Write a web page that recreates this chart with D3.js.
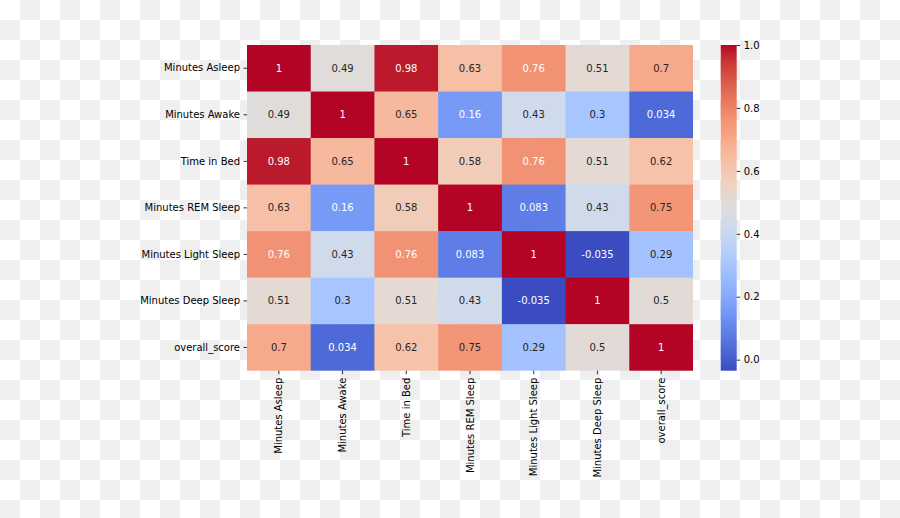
<!DOCTYPE html>
<html>
<head>
<meta charset="utf-8">
<script src="https://cdn.jsdelivr.net/npm/d3@7"></script>
<style>
  html, body { margin: 0; padding: 0; background: #fff; }
  svg { display: block; }
  text { font-family: "DejaVu Sans", sans-serif; }
</style>
</head>
<body>
<svg id="chart" width="900" height="518"></svg>
<script>
// ---- data ----
const labels = ["Minutes Asleep", "Minutes Awake", "Time in Bed", "Minutes REM Sleep",
                "Minutes Light Sleep", "Minutes Deep Sleep", "overall_score"];
const rowAsleep = [1, 0.49, 0.98, 0.63, 0.76, 0.51, 0.7];
const rowAwake  = [0.49, 1, 0.65, 0.16, 0.43, 0.3, 0.034];
const rowBed    = [0.98, 0.65, 1, 0.58, 0.76, 0.51, 0.62];
const rowREM    = [0.63, 0.16, 0.58, 1, 0.083, 0.43, 0.75];
const rowLight  = [0.76, 0.43, 0.76, 0.083, 1, -0.035, 0.29];
const rowDeep   = [0.51, 0.3, 0.51, 0.43, -0.035, 1, 0.5];
const rowScore  = [0.7, 0.034, 0.62, 0.75, 0.29, 0.5, 1];
const matrix = [rowAsleep, rowAwake, rowBed, rowREM, rowLight, rowDeep, rowScore];
const colorbarTicks = [0.0, 0.2, 0.4, 0.6, 0.8, 1.0];

// matplotlib "coolwarm" control points (Moreland)
const coolwarm = [
 [59,76,192],[68,90,204],[77,104,215],[87,117,225],[98,130,234],[108,142,241],
 [119,154,247],[130,165,251],[141,176,254],[152,185,255],[163,194,255],[174,201,253],
 [184,208,249],[194,213,244],[204,217,238],[213,219,230],[221,221,221],[229,216,209],
 [236,211,197],[241,204,185],[245,196,173],[247,187,160],[247,177,148],[247,166,135],
 [244,154,123],[241,141,111],[236,127,99],[229,112,88],[222,96,77],[213,80,66],
 [203,62,56],[192,40,47],[180,4,38]
].map(c => d3.rgb(c[0], c[1], c[2]));
function coolwarmAt(t) {
  t = Math.max(0, Math.min(1, t));
  const n = coolwarm.length - 1;
  const i = Math.min(n - 1, Math.floor(t * n));
  const f = t * n - i;
  return d3.interpolateRgb(coolwarm[i], coolwarm[i + 1])(f);
}

const vmin = d3.min(matrix.flat()), vmax = d3.max(matrix.flat());
const color = v => coolwarmAt((v - vmin) / (vmax - vmin));

function luminance(c) {
  const rgb = d3.rgb(c);
  const f = x => { x /= 255; return x <= 0.03928 ? x / 12.92 : Math.pow((x + 0.055) / 1.055, 2.4); };
  return 0.2126 * f(rgb.r) + 0.7152 * f(rgb.g) + 0.0722 * f(rgb.b);
}

// ---- layout ----
const svg = d3.select("#chart");
const plotL = 247, plotT = 45, plotR = 693, plotB = 370.7;

// checkerboard background
const defs = svg.append("defs");
const pat = defs.append("pattern").attr("id", "checker")
  .attr("width", 40).attr("height", 40).attr("patternUnits", "userSpaceOnUse");
pat.append("rect").attr("width", 40).attr("height", 40).attr("fill", "#ffffff");
pat.append("rect").attr("x", 20).attr("y", 0).attr("width", 20).attr("height", 20).attr("fill", "#efefef");
pat.append("rect").attr("x", 0).attr("y", 20).attr("width", 20).attr("height", 20).attr("fill", "#efefef");
svg.append("rect").attr("width", 900).attr("height", 518).attr("fill", "url(#checker)");

const x = d3.scaleBand().domain(labels).range([plotL, plotR]);
const y = d3.scaleBand().domain(labels).range([plotT, plotB]);

const cells = [];
matrix.forEach((row, i) => row.forEach((v, j) => cells.push({ r: labels[i], c: labels[j], v })));

const g = svg.append("g");
g.selectAll("rect.cell").data(cells).join("rect")
  .attr("class", "cell")
  .attr("x", d => x(d.c)).attr("y", d => y(d.r))
  .attr("width", d => x(d.c) + x.bandwidth() >= plotR - 0.1 ? x.bandwidth() : x.bandwidth() + 0.5)
  .attr("height", d => y(d.r) + y.bandwidth() >= plotB - 0.1 ? y.bandwidth() : y.bandwidth() + 0.5)
  .attr("fill", d => color(d.v));

g.selectAll("text.annot").data(cells).join("text")
  .attr("class", "annot")
  .attr("x", d => x(d.c) + x.bandwidth() / 2)
  .attr("y", d => y(d.r) + y.bandwidth() / 2)
  .attr("dy", "0.35em")
  .attr("text-anchor", "middle")
  .attr("font-size", 10)
  .attr("fill", d => luminance(color(d.v)) > 0.408 ? "#262626" : "#ffffff")
  .text(d => String(d.v));

// axes
const yAxis = svg.append("g").attr("transform", `translate(${plotL},0)`)
  .call(d3.axisLeft(y).tickSize(3.5).tickPadding(3.5));
yAxis.select(".domain").remove();
yAxis.selectAll("text").attr("font-size", 10).attr("font-family", "DejaVu Sans").attr("fill", "#000");
yAxis.selectAll("line").attr("stroke", "#000").attr("stroke-width", 0.8);

const xAxis = svg.append("g").attr("transform", `translate(0,${plotB})`)
  .call(d3.axisBottom(x).tickSize(3.5).tickPadding(3.5));
xAxis.select(".domain").remove();
xAxis.selectAll("line").attr("stroke", "#000").attr("stroke-width", 0.8);
xAxis.selectAll("text")
  .attr("font-size", 10).attr("font-family", "DejaVu Sans").attr("fill", "#000")
  .attr("transform", "rotate(-90)")
  .attr("x", -7).attr("y", 0).attr("dy", "0.35em")
  .attr("text-anchor", "end");

// colorbar
const cbLeft = 720.7, cbWidth = 16;
const cbScale = d3.scaleLinear().domain([vmin, vmax]).range([plotB, plotT]);
const grad = defs.append("linearGradient").attr("id", "cbgrad")
  .attr("x1", 0).attr("y1", 1).attr("x2", 0).attr("y2", 0);
d3.range(0, 1.0001, 1 / 64).forEach(t => {
  grad.append("stop").attr("offset", t).attr("stop-color", coolwarmAt(t));
});
svg.append("rect").attr("x", cbLeft).attr("y", plotT)
  .attr("width", cbWidth).attr("height", plotB - plotT)
  .attr("fill", "url(#cbgrad)");

const cbAxis = svg.append("g").attr("transform", `translate(${cbLeft + cbWidth},0)`)
  .call(d3.axisRight(cbScale).tickValues(colorbarTicks).tickFormat(d3.format(".1f"))
        .tickSize(3.5).tickPadding(3.5));
cbAxis.select(".domain").remove();
cbAxis.selectAll("line").attr("stroke", "#000").attr("stroke-width", 0.8);
cbAxis.selectAll("text").attr("font-size", 10).attr("font-family", "DejaVu Sans").attr("fill", "#000");
</script>
</body>
</html>
